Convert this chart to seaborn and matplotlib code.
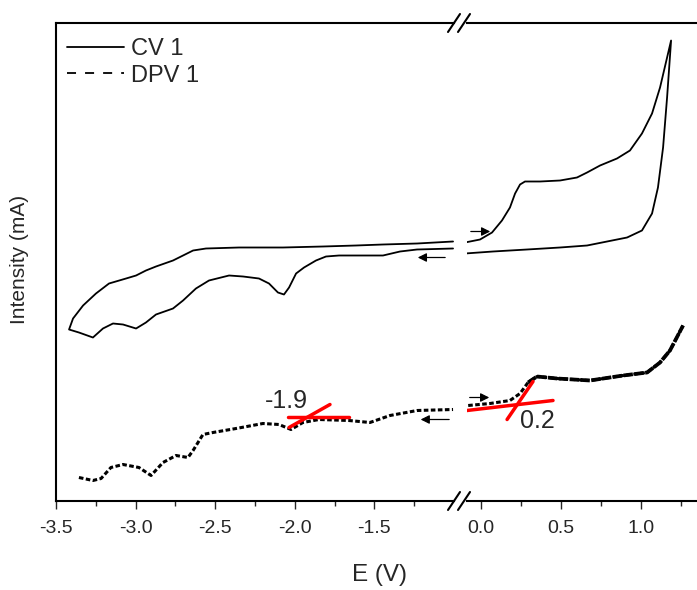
import matplotlib
matplotlib.use("Agg")
import matplotlib.pyplot as plt
from matplotlib.lines import Line2D
from matplotlib.ticker import FixedLocator
import pandas as pd
import seaborn as sns

# CV 1, left of the break (upper branch leftwards, then lower branch back)
cv_left_E = [-1.006, -1.232, -1.446, -1.616, -1.823, -2.074, -2.350, -2.558, -2.639, -2.702,
             -2.765, -2.872, -2.935, -2.997, -3.060, -3.167, -3.249, -3.330, -3.393, -3.418,
             -3.356, -3.268, -3.205, -3.142, -3.079, -2.997, -2.935, -2.872, -2.765, -2.702,
             -2.621, -2.539, -2.413, -2.325, -2.225, -2.162, -2.106, -2.068, -2.036, -1.992,
             -1.942, -1.867, -1.804, -1.722, -1.616, -1.446, -1.339, -1.232, -1.006]
cv_left_I = [2.59, 2.57, 2.56, 2.55, 2.54, 2.53, 2.53, 2.52, 2.50, 2.45,
             2.40, 2.34, 2.30, 2.25, 2.22, 2.17, 2.07, 1.95, 1.82, 1.71,
             1.68, 1.63, 1.72, 1.77, 1.76, 1.72, 1.78, 1.86, 1.92, 2.00,
             2.12, 2.20, 2.25, 2.24, 2.22, 2.17, 2.08, 2.06, 2.13, 2.27,
             2.33, 2.40, 2.44, 2.45, 2.45, 2.45, 2.49, 2.51, 2.52]

# CV 1, right of the break (forward scan, then return)
cv_right_E = [-0.10, -0.006, 0.069, 0.131, 0.181, 0.213, 0.244, 0.275, 0.369, 0.494,
              0.60, 0.663, 0.744, 0.85, 0.931, 1.006, 1.069, 1.119, 1.188,
              1.163, 1.138, 1.106, 1.069, 1.006, 0.913, 0.788, 0.663, 0.494, 0.288,
              0.075, -0.10]
cv_right_I = [2.58, 2.61, 2.68, 2.80, 2.93, 3.07, 3.16, 3.19, 3.19, 3.20,
              3.23, 3.28, 3.35, 3.42, 3.50, 3.67, 3.87, 4.13, 4.60,
              4.03, 3.53, 3.13, 2.87, 2.70, 2.63, 2.59, 2.55, 2.53, 2.51,
              2.49, 2.47]

# DPV 1
dpv_left_E = [-3.356, -3.268, -3.217, -3.155, -3.079, -2.979, -2.903, -2.828, -2.746, -2.671,
              -2.639, -2.577, -2.514, -2.369, -2.200, -2.099, -2.024, -1.949, -1.848, -1.660,
              -1.528, -1.402, -1.232, -1.006]
dpv_left_I = [0.23, 0.20, 0.22, 0.33, 0.36, 0.33, 0.25, 0.38, 0.45, 0.43,
              0.50, 0.66, 0.68, 0.72, 0.77, 0.76, 0.71, 0.78, 0.81, 0.80,
              0.78, 0.85, 0.90, 0.91]
dpv_right_E = [-0.08, 0.056, 0.181, 0.244, 0.294, 0.35, 0.475, 0.681, 0.888, 1.038,
               1.119, 1.181, 1.263]
dpv_right_I = [0.95, 0.97, 1.00, 1.07, 1.18, 1.24, 1.22, 1.20, 1.25, 1.28,
               1.38, 1.50, 1.75]

# onset tangents (red)
tan_left = [([-2.043, -1.660], [0.84, 0.84]), ([-2.036, -1.779], [0.73, 0.96])]
tan_right = [([-0.088, 0.45], [0.90, 1.00]), ([0.163, 0.325], [0.81, 1.19])]

sns.set_style("white")
plt.rcParams["font.family"] = ["Liberation Sans", "DejaVu Sans"]
plt.rcParams["axes.unicode_minus"] = False

fig = plt.figure(figsize=(6.97, 5.9), dpi=100)
W, H = 697.0, 590.0
y0, y1 = 1 - 500.5 / H, 1 - 22.5 / H
axl = fig.add_axes([56 / W, y0, (454 - 56) / W, y1 - y0])
axr = fig.add_axes([466.6 / W, y0, 1 - 466.6 / W, y1 - y0])

cv_l = pd.DataFrame({"E": cv_left_E, "I": cv_left_I})
cv_r = pd.DataFrame({"E": cv_right_E, "I": cv_right_I})
dpv_l = pd.DataFrame({"E": dpv_left_E, "I": dpv_left_I})
dpv_r = pd.DataFrame({"E": dpv_right_E, "I": dpv_right_I})

# noisy plateau of the DPV looks like a thick band
dense = dpv_r[dpv_r["E"] >= 0.294]
sns.lineplot(data=dense, x="E", y="I", sort=False, estimator=None, color="black", lw=2.7,
             linestyle=(0, (2.5, 0.4)), ax=axr)

dotted = (0, (1.5, 0.8))
for ax, cv, dpv, tans in [(axl, cv_l, dpv_l, tan_left), (axr, cv_r, dpv_r, tan_right)]:
    sns.lineplot(data=cv, x="E", y="I", sort=False, estimator=None, color="black", lw=1.3, ax=ax)
    sns.lineplot(data=dpv, x="E", y="I", sort=False, estimator=None, color="black", lw=2.2,
                 linestyle=dotted, ax=ax)
    for tx, ty in tans:
        ax.plot(tx, ty, color="red", lw=2.5)
    ax.set_ylim(0, 4.78)
    ax.set_yticks([])
    ax.set_xlabel("")
    ax.set_ylabel("")
    ax.tick_params(axis="x", which="major", direction="out", length=6, width=1,
                   labelsize=14, pad=8, bottom=True)
    ax.tick_params(axis="x", which="minor", direction="out", length=3.5, width=1, bottom=True)
    for s in ax.spines.values():
        s.set_linewidth(1.5)
        s.set_color("black")
    ax.spines["right"].set_visible(False)

axl.set_xlim(-3.5, -1.0)
axl.xaxis.set_major_locator(FixedLocator([-3.5, -3.0, -2.5, -2.0, -1.5]))
axl.xaxis.set_minor_locator(FixedLocator([-3.25, -2.75, -2.25, -1.75, -1.25]))
axr.set_xlim(-0.09, 1.35)
axr.xaxis.set_major_locator(FixedLocator([0.0, 0.5, 1.0]))
axr.xaxis.set_minor_locator(FixedLocator([0.25, 0.75, 1.25]))
axr.spines["left"].set_visible(False)

# scan direction arrows
arrow = dict(arrowstyle="-|>", lw=0.9, color="black", mutation_scale=13)
axr.annotate("", xy=(0.075, 2.69), xytext=(-0.081, 2.69), arrowprops=arrow)
axl.annotate("", xy=(-1.245, 2.43), xytext=(-1.038, 2.43), arrowprops=arrow)
axr.annotate("", xy=(0.069, 1.03), xytext=(-0.088, 1.03), arrowprops=arrow)
axl.annotate("", xy=(-1.227, 0.81), xytext=(-1.013, 0.81), arrowprops=arrow)

axl.text(-2.055, 1.00, "-1.9", fontsize=18, ha="center", va="center")
axr.text(0.35, 0.80, "0.2", fontsize=18, ha="center", va="center")

handles = [Line2D([], [], color="black", lw=1.3),
           Line2D([], [], color="black", lw=1.3, linestyle=(0, (5, 5)))]
axl.legend(handles, ["CV 1", "DPV 1"], loc="upper left", bbox_to_anchor=(0.028, 0.968),
           frameon=False, fontsize=17, handlelength=2.4, handletextpad=0.3,
           labelspacing=0.2, borderpad=0, borderaxespad=0)

fig.text(380 / W, 1 - 575 / H, "E (V)", fontsize=17.5, ha="center", va="center")
fig.text(20 / W, 1 - 259 / H, "Intensity (mA)", fontsize=15, ha="center", va="center",
         rotation=90)

# axis break marks
for yb in (14, 492):
    for xb in (448, 458):
        fig.add_artist(Line2D([xb / W, (xb + 12) / W], [1 - (yb + 18) / H, 1 - yb / H],
                              color="black", lw=1.5, transform=fig.transFigure))

fig.savefig("out.png", dpi=100)
